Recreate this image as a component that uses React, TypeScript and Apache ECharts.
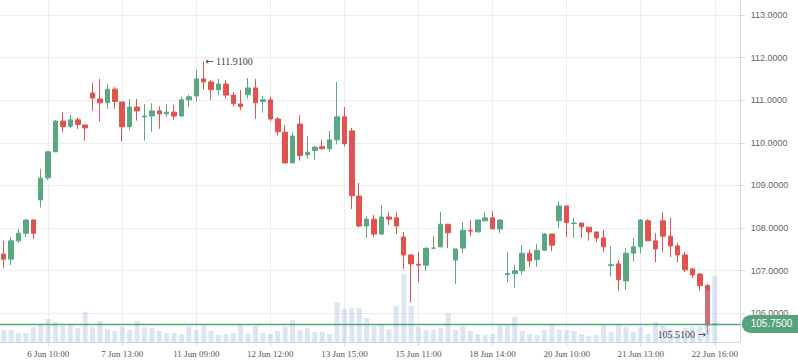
import React, { useEffect, useRef } from 'react';
import * as echarts from 'echarts';

// x-axis tick labels (shown every 10th slot, starting at slot 6)
const tickLabels = [
  '6 Jun 10:00', '7 Jun 13:00', '11 Jun 09:00', '12 Jun 12:00', '13 Jun 15:00',
  '15 Jun 11:00', '18 Jun 14:00', '20 Jun 10:00', '21 Jun 13:00', '22 Jun 16:00',
];
const firstTickSlot = 6;
const tickStep = 10;
const slotCount = 100;

const opens = [
  107.39, 107.27, 107.70, 107.88, 108.19, 108.66, 109.18, 109.79, 110.51, 110.39,
  110.54, 110.42, 111.17, 111.03, 110.94, 111.26, 110.96, 110.38, 110.84, 110.61,
  110.63, 110.75, 110.68, 110.72, 110.63, 111.01, 111.10, 111.50, 111.43, 111.25,
  111.38, 111.12, 110.91, 111.13, 111.29, 110.97, 111.01, 110.56, 110.25, 109.53,
  110.44, 109.72, 109.82, 109.91, 109.86, 110.07, 110.61, 110.28, 108.75, 108.05,
  108.21, 107.86, 108.26, 108.24, 107.79, 107.37, 107.15, 107.13, 107.53, 107.56,
  108.09, 107.25, 107.53, 107.95, 107.91, 108.17, 108.24, 107.98, 106.91, 106.93,
  107.00, 107.41, 107.26, 107.48, 107.86, 108.17, 108.52, 108.11, 108.12, 108.02,
  107.91, 107.77, 107.12, 107.16, 106.76, 107.41, 107.56, 108.17, 107.70, 108.17,
  107.81, 107.58, 107.37, 107.04, 106.92, 106.65, 105.73,
];
const closes = [
  107.27, 107.70, 107.88, 108.19, 107.88, 109.17, 109.79, 110.51, 110.38, 110.54,
  110.43, 110.35, 111.05, 110.94, 111.26, 110.97, 110.38, 110.84, 110.75, 110.63,
  110.75, 110.68, 110.72, 110.63, 111.01, 111.08, 111.50, 111.43, 111.25, 111.38,
  111.12, 110.92, 110.85, 111.29, 110.94, 111.01, 110.56, 110.26, 109.53, 110.16,
  109.70, 109.78, 109.90, 109.86, 110.07, 110.61, 109.98, 108.76, 108.05, 108.21,
  107.86, 108.26, 108.21, 108.05, 107.37, 107.16, 107.13, 107.53, 107.53, 108.09,
  107.89, 107.51, 107.95, 107.93, 108.19, 108.24, 107.98, 108.19, 106.93, 107.00,
  107.41, 107.23, 107.48, 107.86, 107.60, 108.52, 108.13, 108.12, 108.03, 107.91,
  107.77, 107.56, 107.14, 106.79, 107.41, 107.56, 108.19, 107.70, 107.51, 107.81,
  107.58, 107.37, 107.02, 106.90, 106.65, 105.73, 105.75,
];
const lows = [
  107.07, 107.13, 107.65, 107.79, 107.74, 108.48, 109.13, 109.79, 110.25, 110.34,
  110.32, 110.05, 110.75, 110.50, 110.80, 110.80, 110.03, 110.31, 110.52, 110.05,
  110.26, 110.33, 110.61, 110.54, 110.61, 110.84, 110.97, 111.25, 111.01, 111.11,
  111.04, 110.85, 110.77, 111.04, 110.56, 110.71, 110.51, 110.17, 109.51, 109.53,
  109.58, 109.63, 109.60, 109.84, 109.79, 109.96, 109.91, 108.45, 108.02, 107.77,
  107.79, 107.84, 108.07, 107.86, 107.04, 106.26, 106.73, 106.99, 107.51, 107.55,
  107.53, 106.69, 107.42, 107.81, 107.91, 108.17, 107.98, 107.88, 106.73, 106.60,
  106.91, 107.09, 107.09, 107.46, 107.46, 108.00, 107.79, 107.77, 107.77, 107.70,
  107.67, 107.44, 106.86, 106.53, 106.55, 107.21, 107.41, 107.70, 107.20, 107.44,
  107.32, 107.20, 106.97, 106.83, 106.53, 105.51, 105.73,
];
const highs = [
  107.70, 107.79, 107.98, 108.20, 108.20, 109.39, 109.81, 110.54, 110.72, 110.65,
  110.59, 110.42, 111.41, 111.50, 111.38, 111.31, 110.96, 111.03, 111.03, 110.91,
  110.93, 110.86, 110.91, 110.89, 111.08, 111.13, 111.71, 111.91, 111.47, 111.50,
  111.47, 111.19, 111.24, 111.52, 111.50, 111.10, 111.08, 110.61, 110.42, 110.25,
  110.65, 110.16, 109.93, 110.07, 110.28, 111.43, 110.84, 110.35, 109.06, 108.28,
  108.31, 108.54, 108.38, 108.38, 107.91, 107.39, 107.44, 107.53, 107.81, 108.38,
  108.09, 107.51, 108.14, 108.19, 108.19, 108.38, 108.40, 108.19, 107.44, 107.14,
  107.60, 107.50, 107.63, 107.88, 107.86, 108.63, 108.52, 108.24, 108.12, 108.02,
  107.91, 107.95, 107.58, 107.25, 107.53, 107.77, 108.21, 108.21, 107.88, 108.38,
  108.24, 107.65, 107.44, 107.06, 106.95, 106.69, 105.75,
];
const volumes = [
  123, 123, 93, 93, 153, 183, 233, 203, 163, 183,
  143, 303, 153, 213, 133, 113, 153, 123, 213, 153,
  143, 113, 93, 93, 83, 153, 123, 163, 113, 73,
  83, 93, 173, 93, 163, 93, 83, 113, 153, 223,
  123, 143, 103, 103, 83, 403, 333, 343, 343, 243,
  163, 173, 133, 363, 683, 363, 153, 123, 123, 143,
  293, 123, 163, 113, 83, 73, 83, 163, 173, 253,
  113, 83, 73, 123, 183, 123, 123, 113, 83, 63,
  73, 173, 103, 183, 153, 103, 153, 83, 203, 163,
  133, 103, 143, 153, 153, 516, 663,
];
const lastPrice = 105.75;

const UP = '#5aa882';
const DOWN = '#e0534f';
const FLAT = '#8a8a8a';
const GRID = '#eaedf1';
const AXIS = '#d5d9de';
const LINE = '#56a37e';

export default function App() {
  const ref = useRef<HTMLDivElement>(null);

  useEffect(() => {
    document.body.style.margin = '0';
    const chart = echarts.init(ref.current as HTMLDivElement, null, { renderer: 'svg' });

    const isTick = (i: number) =>
      i >= firstTickSlot && (i - firstTickSlot) % tickStep === 0 &&
      (i - firstTickSlot) / tickStep < tickLabels.length;

    const categories = Array.from({ length: slotCount }, (_, i) =>
      isTick(i) ? tickLabels[(i - firstTickSlot) / tickStep] : ''
    );

    const candleData = opens.map((o, i) => {
      const item: any = { value: [o, closes[i], lows[i], highs[i]] };
      if (o === closes[i]) item.itemStyle = { color: FLAT, borderColor: FLAT };
      return item;
    });

    const tickFn = (index: number) => isTick(index);
    const arrowRich = { a: { fontFamily: 'DejaVu Sans', fontSize: 10, color: '#444' } };

    chart.setOption({
      animation: false,
      grid: { left: 0, right: 57.3, top: 0, bottom: 20.7 },
      xAxis: {
        type: 'category',
        data: categories,
        boundaryGap: true,
        axisLine: { show: true, lineStyle: { color: AXIS } },
        axisTick: { show: true, alignWithLabel: true, interval: tickFn, length: 4, lineStyle: { color: AXIS } },
        axisLabel: {
          interval: tickFn, color: '#555', fontSize: 9,
          fontFamily: 'Liberation Serif', margin: 7,
        },
        splitLine: { show: true, interval: tickFn, alignWithLabel: true, lineStyle: { color: GRID } },
      },
      yAxis: [
        {
          type: 'value',
          position: 'right',
          min: 105.32,
          max: 113.352,
          splitNumber: 8,
          axisLine: { show: true, lineStyle: { color: AXIS } },
          axisTick: { show: true, length: 4, lineStyle: { color: AXIS } },
          axisLabel: {
            color: '#666', fontSize: 9, fontFamily: 'Liberation Sans', margin: 10,
            showMinLabel: false, showMaxLabel: false,
            formatter: (v: number) => v.toFixed(4),
          },
          splitLine: { show: true, showMinLine: false, showMaxLine: false, lineStyle: { color: GRID } },
        },
        { type: 'value', min: 0, max: 3423, show: false },
      ],
      series: [
        {
          type: 'candlestick',
          data: candleData,
          barWidth: 5,
          itemStyle: {
            color: UP, color0: DOWN, borderColor: UP, borderColor0: DOWN,
            borderColorDoji: FLAT, borderWidth: 1,
          },
          markPoint: {
            symbol: 'circle',
            symbolSize: 1,
            itemStyle: { color: 'rgba(0,0,0,0)' },
            label: { show: true, color: '#444', fontSize: 10, fontFamily: 'Liberation Serif' },
            data: [
              {
                type: 'max', valueDim: 'highest',
                label: {
                  position: 'right', distance: 1, rich: arrowRich,
                  formatter: (p: any) => '{a|←} ' + Number(p.value).toFixed(4),
                },
              },
              {
                type: 'min', valueDim: 'lowest',
                label: {
                  position: 'left', distance: 1, rich: arrowRich,
                  formatter: (p: any) => Number(p.value).toFixed(4) + ' {a|→}',
                },
              },
            ],
          },
          markLine: {
            silent: true,
            symbol: ['none', 'none'],
            data: [{ yAxis: lastPrice }],
            lineStyle: { color: LINE, width: 1.3, type: 'solid' },
            label: {
              position: 'end', distance: 1,
              formatter: (p: any) => Number(p.value).toFixed(4),
              color: '#fff', backgroundColor: LINE,
              padding: [4, 10, 4, 9], borderRadius: [9, 0, 0, 9],
              fontSize: 10, fontFamily: 'Liberation Sans',
            },
          },
        },
        {
          type: 'bar',
          yAxisIndex: 1,
          data: volumes,
          barWidth: 5,
          silent: true,
          z: 3,
          itemStyle: { color: 'rgba(150,180,215,0.33)' },
        },
      ],
    });

    return () => chart.dispose();
  }, []);

  return <div ref={ref} style={{ position: 'absolute', left: 0, top: 0, width: 798, height: 363 }} />;
}
